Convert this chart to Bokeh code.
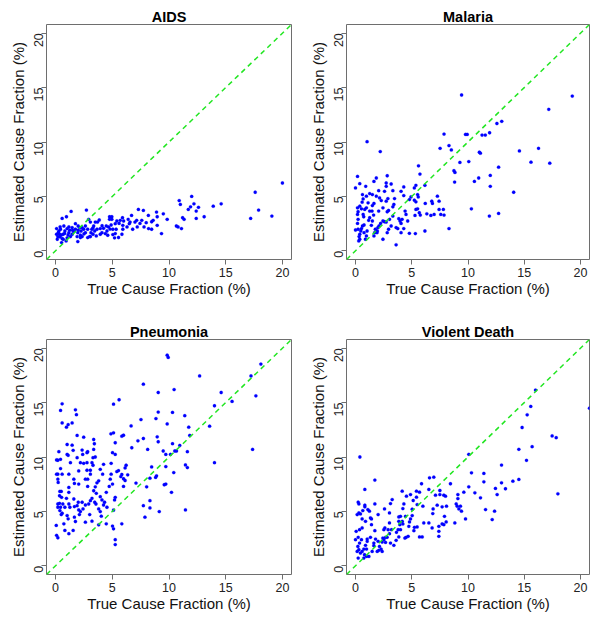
import math
from bokeh.plotting import figure
from bokeh.layouts import gridplot
from bokeh.models import Range1d, FixedTicker, Slope
from bokeh.embed import file_html
from bokeh.resources import INLINE

# ---------------- data ----------------
titles = ["AIDS", "Malaria", "Pneumonia", "Violent Death"]
x_label = "True Cause Fraction (%)"
y_label = "Estimated Cause Fraction (%)"
tick_values = [0, 5, 10, 15, 20]
axis_min, axis_max = -0.8, 20.8

# (true cause fraction, estimated cause fraction)
aids_points = [
    (20.0, 6.23), (17.6, 5.38), (17.9, 3.74), (17.2, 2.98), (19.07, 3.19), (14.6, 4.32), (13.9, 4.1),
    (13.1, 3.13), (12.6, 4.0), (12.4, 3.65), (12.4, 2.98), (12.2, 4.32), (12.0, 5.0), (11.9, 4.04),
    (11.7, 3.8), (11.2, 3.04), (11.33, 2.89), (11.1, 2.04), (10.9, 4.62), (11.0, 4.26), (10.65, 2.28),
    (10.8, 2.19), (9.84, 2.89), (9.5, 3.4), (9.34, 1.58), (8.9, 3.56), (8.96, 3.13), (8.96, 2.34),
    (8.6, 2.8), (8.47, 2.67), (8.18, 3.25), (8.2, 2.04), (7.74, 3.71), (7.3, 3.8), (7.6, 2.8),
    (7.44, 2.52), (7.8, 2.19), (7.15, 2.8), (7.0, 2.64), (6.8, 1.98), (6.7, 3.25), (6.4, 2.89),
    (6.5, 2.49), (6.3, 2.19), (6.0, 2.74), (5.9, 3.04), (5.93, 1.98), (5.7, 2.8), (5.6, 2.52),
    (5.4, 2.74), (5.26, 2.49), (5.34, 1.98), (5.26, 1.58), (5.2, 1.19), (5.55, 1.22), (5.85, 1.52),
    (5.05, 1.98), (4.9, 2.37), (4.76, 3.13), (4.96, 3.13), (4.76, 2.89), (4.96, 2.89), (4.67, 2.19),
    (4.53, 1.82), (4.38, 1.58), (4.47, 2.28), (4.23, 2.07), (4.09, 1.67), (3.94, 2.04), (3.85, 2.83),
    (3.7, 2.64), (3.5, 2.64), (3.65, 1.98), (3.45, 1.82), (3.36, 2.28), (3.2, 1.98), (3.12, 1.67),
    (3.0, 1.31), (2.92, 2.89), (3.07, 2.64), (2.72, 3.74), (2.63, 2.28), (2.48, 1.98), (2.63, 1.67),
    (2.34, 1.31), (2.25, 1.82), (2.13, 2.13), (2.19, 1.43), (1.96, 1.67), (1.9, 1.31), (1.96, 0.85),
    (1.75, 1.98), (1.6, 1.76), (1.46, 1.52), (1.37, 3.62), (1.31, 1.31), (1.17, 1.67), (1.02, 2.04),
    (1.02, 1.19), (0.96, 3.13), (0.93, 0.91), (0.82, 1.82), (0.73, 2.28), (0.67, 1.52), (0.58, 2.98),
    (0.58, 1.12), (0.53, 0.76), (0.44, 1.98), (0.35, 1.52), (0.29, 1.82), (0.2, 1.31), (0.09, 2.04),
    (0.09, 1.52), (0.15, 1.06), (0.38, 1.28), (0.67, 1.06), (1.17, 2.19), (1.46, 2.13), (1.75, 2.49),
    (1.99, 2.28), (2.34, 2.13), (2.83, 1.98), (3.3, 1.52), (3.59, 1.37), (3.94, 1.52), (2.19, 1.22),
    (2.83, 1.22), (3.07, 1.31), (4.6, 1.43), (5.05, 1.49), (5.93, 2.34), (6.57, 2.64), (7.2, 2.19),
    (7.99, 2.58), (8.47, 1.98), (0.25, 1.7), (0.5, 1.45), (0.8, 1.6), (1.1, 1.45), (1.5, 1.9),
    (2.0, 1.9), (2.5, 1.55), (3.3, 2.1), (4.1, 2.3), (4.8, 2.0), (0.4, 2.2), (1.25, 1.9),
]

malaria_points = [
    (19.27, 14.22), (9.43, 14.32), (17.18, 13.0), (17.27, 8.05), (13.0, 11.9), (12.57, 11.7),
    (11.92, 10.85), (11.25, 10.64), (11.54, 10.64), (9.78, 10.7), (9.93, 10.7), (7.87, 10.73),
    (8.31, 9.67), (8.52, 9.27), (7.52, 9.42), (14.57, 9.18), (16.27, 9.42), (15.6, 8.15),
    (11.01, 9.06), (11.1, 8.97), (10.07, 8.2), (9.28, 8.12), (8.75, 7.36), (8.84, 7.2), (8.81, 6.32),
    (10.95, 6.69), (10.57, 6.38), (11.98, 6.93), (11.98, 5.93), (12.72, 7.69), (14.06, 5.38),
    (10.3, 3.86), (11.9, 3.19), (12.72, 3.43), (8.31, 2.04), (5.6, 7.81), (5.73, 7.05), (0.18, 6.84),
    (0.0, 5.78), (0.38, 6.17), (1.03, 10.03), (2.2, 9.12), (2.82, 6.9), (1.85, 6.69), (0.91, 5.93),
    (1.64, 6.38), (2.73, 6.23), (2.73, 5.93), (3.17, 6.14), (2.06, 5.53), (2.58, 5.47), (3.32, 5.53),
    (4.05, 5.47), (4.29, 5.87), (5.37, 6.02), (5.23, 5.78), (6.17, 6.02), (5.52, 5.17), (5.58, 4.95),
    (4.93, 4.95), (5.23, 4.65), (5.37, 4.5), (4.79, 4.71), (4.29, 5.08), (3.47, 4.8), (3.41, 4.26),
    (2.88, 4.8), (2.73, 4.56), (2.29, 4.62), (2.14, 4.86), (1.85, 5.02), (1.5, 5.17), (1.26, 5.26),
    (0.97, 5.02), (0.62, 5.17), (0.68, 4.77), (0.59, 4.47), (0.38, 4.1), (0.18, 3.95), (0.23, 3.59),
    (0.18, 3.34), (0.53, 3.86), (0.97, 3.95), (1.26, 3.65), (1.47, 3.65), (1.5, 4.16), (1.64, 4.35),
    (2.06, 3.65), (2.44, 3.95), (2.82, 3.59), (2.94, 3.71), (3.32, 3.19), (3.03, 2.89), (2.44, 2.74),
    (2.58, 2.67), (2.73, 2.64), (2.23, 2.52), (2.09, 2.28), (1.94, 1.82), (1.91, 1.67), (1.76, 1.98),
    (1.7, 1.67), (1.64, 1.37), (1.5, 2.74), (1.41, 2.34), (1.26, 3.04), (1.17, 2.8), (1.03, 1.82),
    (0.97, 1.37), (0.88, 1.06), (0.76, 2.37), (0.73, 3.13), (0.68, 3.34), (0.62, 2.28), (0.53, 2.04),
    (0.47, 1.82), (0.38, 1.52), (0.32, 1.31), (0.38, 1.06), (0.29, 0.91), (0.23, 2.89), (0.18, 2.52),
    (0.0, 1.91), (0.23, 1.98), (0.76, 1.67), (2.44, 1.06), (2.82, 1.67), (2.94, 1.98), (3.17, 2.28),
    (3.61, 2.13), (3.76, 2.04), (3.61, 0.55), (3.85, 2.95), (3.96, 2.74), (4.05, 2.52), (4.14, 2.89),
    (4.29, 2.04), (4.05, 1.67), (4.41, 3.65), (4.49, 3.34), (4.79, 1.61), (5.32, 1.58), (5.37, 3.8),
    (5.52, 3.86), (5.67, 3.5), (5.76, 3.28), (5.29, 3.25), (6.2, 4.35), (6.17, 1.82), (6.34, 3.4),
    (6.7, 3.25), (6.78, 4.56), (6.84, 4.35), (6.99, 3.34), (7.28, 5.02), (7.43, 4.56), (7.43, 3.8),
    (7.58, 3.34), (7.81, 3.8), (7.87, 3.28), (1.12, 4.41), (1.61, 3.28), (1.99, 2.13), (0.82, 3.8),
    (3.32, 4.04), (4.64, 2.74),
]

pneumonia_points = [
    (9.84, 19.36), (9.93, 19.15), (12.7, 17.45), (17.23, 17.45), (18.1, 18.54), (17.66, 15.62),
    (17.37, 10.7), (15.56, 15.11), (14.6, 15.93), (14.01, 14.71), (13.58, 12.83), (14.01, 9.48),
    (10.45, 16.2), (10.31, 14.1), (9.84, 13.04), (9.05, 15.93), (9.05, 14.13), (8.85, 13.53),
    (8.96, 11.85), (9.05, 11.4), (7.74, 16.69), (7.53, 13.44), (6.66, 12.86), (7.26, 11.49),
    (7.74, 11.7), (8.12, 10.7), (5.6, 15.26), (5.11, 14.86), (5.11, 12.22), (5.26, 11.31),
    (4.88, 12.13), (5.84, 11.91), (5.99, 12.0), (6.72, 10.85), (5.02, 10.4), (5.26, 10.24),
    (4.9, 9.42), (11.39, 13.8), (11.74, 12.74), (11.83, 11.98), (11.62, 10.49), (10.66, 10.55),
    (10.95, 11.06), (10.31, 11.22), (10.51, 10.55), (10.13, 10.24), (9.72, 10.24), (9.49, 10.55),
    (9.72, 9.12), (10.42, 8.57), (11.45, 9.27), (11.62, 9.03), (11.45, 5.14), (8.9, 8.27),
    (8.82, 8.12), (8.47, 9.09), (8.32, 8.05), (8.32, 5.99), (8.32, 5.32), (9.14, 4.98), (7.88, 4.47),
    (7.74, 5.53), (8.03, 7.26), (7.09, 7.6), (9.72, 7.51), (9.58, 7.45), (10.22, 6.75), (6.36, 8.36),
    (6.22, 9.24), (6.13, 9.0), (5.75, 8.2), (5.55, 8.75), (5.84, 8.39), (5.99, 8.0), (6.13, 7.84),
    (5.4, 8.66), (4.9, 8.42), (5.02, 7.51), (4.82, 7.96), (4.73, 7.3), (5.26, 6.29), (5.2, 6.05),
    (5.11, 5.11), (5.02, 3.65), (5.11, 3.4), (5.26, 2.4), (5.26, 1.95), (5.84, 3.86), (5.99, 7.3),
    (4.53, 5.38), (4.47, 6.75), (4.32, 5.84), (4.23, 5.59), (4.09, 6.05), (3.94, 6.35), (3.8, 5.23),
    (3.94, 4.98), (4.03, 4.56), (4.47, 3.86), (3.8, 3.77), (4.15, 8.42), (3.94, 8.87), (4.23, 9.33),
    (3.65, 7.63), (3.5, 7.26), (3.36, 6.9), (3.45, 5.84), (3.56, 5.68), (3.21, 6.2), (3.07, 5.99),
    (2.92, 5.68), (3.01, 4.71), (3.21, 4.1), (3.36, 11.61), (3.42, 11.22), (3.36, 10.7), (3.5, 10.0),
    (3.3, 9.94), (3.21, 9.48), (3.3, 9.24), (3.07, 8.78), (3.07, 8.42), (2.83, 7.96), (2.83, 7.3),
    (2.77, 8.78), (2.77, 9.48), (2.77, 10.4), (2.83, 10.49), (2.48, 11.82), (2.39, 10.24),
    (2.48, 9.42), (2.63, 7.96), (2.63, 5.59), (2.63, 4.01), (2.34, 5.84), (2.42, 5.23), (2.19, 9.48),
    (2.04, 8.72), (2.04, 7.51), (2.0, 5.84), (2.19, 4.98), (2.1, 4.71), (1.9, 5.53), (1.9, 9.94),
    (1.9, 11.98), (1.84, 13.89), (1.75, 14.34), (1.61, 7.96), (1.66, 7.57), (1.61, 6.14), (1.66, 5.44),
    (1.66, 4.47), (1.75, 4.07), (1.55, 3.25), (1.55, 10.61), (1.46, 13.13), (1.31, 9.48), (1.26, 5.38),
    (1.17, 5.68), (1.17, 6.75), (1.17, 7.2), (1.17, 8.42), (1.11, 10.15), (1.02, 10.24), (1.02, 11.15),
    (1.11, 12.98), (0.96, 12.74), (0.96, 6.2), (1.02, 4.62), (1.11, 4.32), (1.17, 2.95), (0.82, 3.25),
    (0.73, 3.86), (0.82, 5.38), (0.64, 5.68), (0.53, 6.29), (0.44, 5.38), (0.58, 4.83), (0.5, 4.71),
    (0.58, 8.42), (0.58, 13.13), (0.58, 14.89), (0.44, 14.28), (0.44, 8.94), (0.44, 9.79), (0.5, 6.84),
    (0.35, 6.44), (0.35, 5.74), (0.2, 5.68), (0.2, 5.38), (0.29, 10.49), (0.2, 8.42), (0.2, 7.96),
    (0.23, 7.66), (0.09, 9.73), (0.2, 9.7), (0.09, 8.42), (0.06, 3.71), (0.09, 2.8), (0.2, 2.58),
    (0.38, 5.08), (0.38, 6.84), (3.59, 6.66), (3.8, 7.81), (2.04, 5.14), (1.46, 11.09), (2.34, 10.64),
]

violent_points = [
    (20.8, 14.49), (16.0, 16.15), (15.58, 14.65), (15.26, 13.88), (14.81, 12.71), (14.52, 10.71),
    (14.52, 7.94), (15.7, 10.95), (15.2, 9.69), (17.48, 11.94), (17.84, 11.78), (17.99, 6.62),
    (13.99, 7.78), (13.33, 7.08), (12.98, 7.63), (12.98, 9.26), (12.44, 7.11), (12.59, 6.55),
    (12.36, 5.02), (12.15, 4.25), (11.41, 8.49), (11.41, 7.72), (11.11, 6.25), (11.56, 5.17),
    (10.31, 8.55), (10.07, 10.25), (10.07, 7.26), (10.61, 6.71), (9.63, 6.77), (9.78, 4.31),
    (9.1, 6.55), (9.1, 6.18), (9.04, 5.48), (9.19, 5.23), (9.33, 5.48), (9.42, 5.02), (8.95, 5.69),
    (8.83, 3.94), (8.44, 7.54), (8.0, 6.4), (7.85, 6.49), (8.09, 5.48), (7.7, 5.42), (7.91, 4.55),
    (8.06, 4.03), (7.7, 3.85), (7.85, 3.78), (7.5, 6.92), (7.5, 6.55), (7.41, 3.63), (7.41, 3.17),
    (7.41, 2.71), (7.26, 5.57), (7.11, 6.49), (6.96, 8.15), (6.58, 8.09), (6.52, 7.02), (6.9, 5.23),
    (6.87, 4.8), (6.81, 3.48), (6.52, 3.94), (5.99, 5.48), (5.87, 7.54), (5.69, 6.77), (5.42, 6.86),
    (5.42, 6.31), (5.48, 5.63), (5.48, 3.57), (5.24, 3.54), (5.69, 2.65), (5.93, 2.65), (6.07, 3.94),
    (5.13, 6.0), (5.04, 5.2), (5.04, 4.62), (5.19, 3.23), (4.89, 6.55), (4.89, 4.31), (4.8, 4.03),
    (4.74, 3.63), (4.68, 2.71), (4.53, 6.4), (4.44, 4.55), (4.5, 2.62), (4.3, 5.69), (4.21, 5.26),
    (4.21, 3.85), (4.39, 2.55), (4.15, 6.86), (4.15, 4.09), (4.0, 4.55), (3.94, 3.78), (4.0, 3.32),
    (3.85, 4.49), (3.85, 4.09), (3.79, 3.32), (3.85, 2.65), (3.64, 3.08), (3.61, 2.34), (3.41, 1.88),
    (3.26, 6.09), (3.11, 5.72), (3.02, 4.86), (3.02, 3.94), (2.9, 3.32), (3.02, 2.95), (3.11, 2.09),
    (3.2, 3.32), (2.81, 2.62), (2.67, 2.62), (2.67, 2.15), (2.61, 3.48), (2.52, 3.32), (2.52, 2.4),
    (2.43, 2.55), (2.37, 2.18), (2.28, 1.54), (2.58, 5.23), (2.37, 1.32), (2.13, 1.78), (2.07, 1.42),
    (2.01, 2.25), (1.93, 1.32), (2.01, 4.71), (1.72, 7.88), (1.72, 5.69), (1.72, 3.23), (1.78, 2.46),
    (1.63, 2.09), (1.63, 1.85), (1.42, 3.78), (1.33, 4.4), (1.42, 4.31), (1.33, 2.62), (1.19, 0.86),
    (1.24, 5.02), (1.1, 5.17), (1.04, 2.46), (1.04, 2.25), (0.98, 1.54), (0.98, 0.86), (0.83, 7.02),
    (0.83, 5.57), (0.83, 5.42), (0.89, 4.09), (0.89, 1.88), (0.8, 1.02), (0.74, 0.71), (0.65, 5.08),
    (0.59, 4.31), (0.59, 3.48), (0.53, 2.4), (0.59, 1.32), (0.44, 4.77), (0.39, 10.0), (0.3, 5.69),
    (0.3, 4.86), (0.36, 3.32), (0.36, 2.09), (0.3, 1.48), (0.24, 5.85), (0.15, 4.71), (0.24, 2.62),
    (0.21, 1.78), (0.15, 1.32), (0.24, 0.71), (0.06, 3.17), (0.0, 2.4), (0.44, 1.17), (0.74, 1.54),
    (1.48, 1.32),
]

panel_points = [aids_points, malaria_points, pneumonia_points, violent_points]

# ---------------- styling ----------------
FONT = "Liberation Sans"
FRAME_COLOR = "#6e6e6e"
POINT_COLOR = "#0000ff"
LINE_COLOR = "#22e622"

# (width, height, left, right, top, bottom) for each panel; the page has no margin,
# so the first column / first row carry an extra 8px offset
panel_geometry = [
    (306, 309, 46, 15, 24, 50),
    (286, 309, 38, 3, 24, 50),
    (306, 307, 46, 15, 30, 42),
    (286, 307, 38, 3, 30, 42),
]


def make_panel(title, pts, geom):
    width, height, left, right, top, bottom = geom
    xs = [pt[0] for pt in pts]
    ys = [pt[1] for pt in pts]
    p = figure(width=width, height=height, output_backend="svg", toolbar_location=None,
               x_range=Range1d(axis_min, axis_max), y_range=Range1d(axis_min, axis_max),
               min_border_left=left, min_border_right=right,
               min_border_top=top, min_border_bottom=bottom,
               background_fill_color="white", border_fill_color="white")
    p.title.text = title
    p.title.align = "center"
    p.title.text_font = FONT
    p.title.text_font_size = "14.5px"
    p.title.text_font_style = "bold"
    p.title.text_color = "black"
    p.title.standoff = 0
    p.grid.visible = False
    p.outline_line_color = FRAME_COLOR
    p.outline_line_width = 1
    p.outline_line_alpha = 1.0
    for ax in (p.xaxis[0], p.yaxis[0]):
        ax.ticker = FixedTicker(ticks=tick_values)
        ax.axis_line_color = None
        ax.major_tick_line_color = FRAME_COLOR
        ax.major_tick_out = 5
        ax.major_tick_in = 0
        ax.minor_tick_line_color = None
        ax.major_label_text_font = FONT
        ax.major_label_text_font_size = "12.5px"
        ax.major_label_text_color = "#222222"
        ax.axis_label_text_font = FONT
        ax.axis_label_text_font_size = "15px"
        ax.axis_label_text_font_style = "normal"
        ax.axis_label_text_color = "#111111"
        ax.major_label_standoff = 3
        ax.axis_label_standoff = 0
    p.xaxis.axis_label = x_label
    p.yaxis.axis_label = y_label
    p.yaxis.major_label_orientation = math.pi / 2
    p.add_layout(Slope(gradient=1, y_intercept=0, line_color=LINE_COLOR,
                       line_dash="5 4", line_width=1.5))
    p.scatter(xs, ys, size=3.3, fill_color=POINT_COLOR, line_color=POINT_COLOR, line_width=0.2)
    return p


panels = [make_panel(t, pts, g) for t, pts, g in zip(titles, panel_points, panel_geometry)]
grid = gridplot([[panels[0], panels[1]], [panels[2], panels[3]]], toolbar_location=None)

with open("out.html", "w") as f:
    f.write(file_html(grid, INLINE))
